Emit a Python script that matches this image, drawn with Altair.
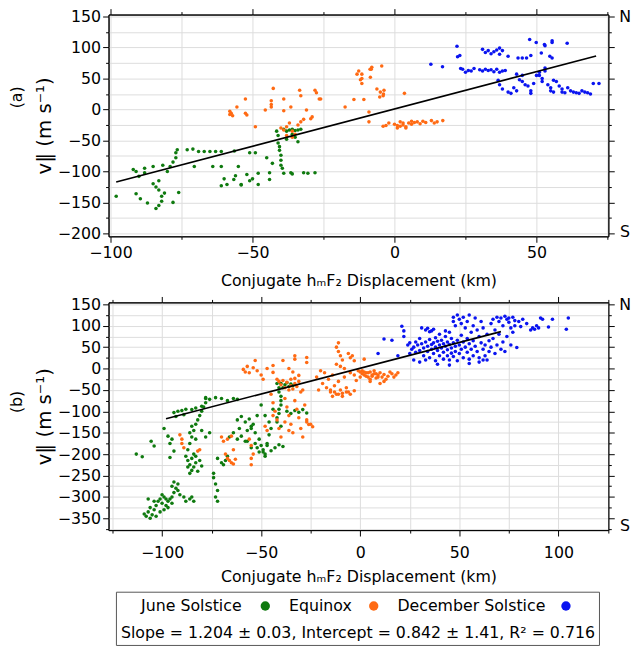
import altair as alt
import pandas as pd

FONT = "DejaVu Sans"
SEASONS = ["June Solstice", "Equinox", "December Solstice"]
COLORS = ["#0f7a0f", "#ff6a13", "#0a14f0"]

# ---- panel (a) data: (displacement km, v|| m/s) ----
a_june = [(-98,-140),(-92,-97),(-91,-100),(-90,-108),(-88,-95),(-88,-102),(-91,-136),(-89.5,-144),(-87,-151),
          (-85,-92),(-81.6,-90),(-85,-120),(-84,-125),(-83,-130),(-82,-140),(-82,-148),(-83,-155),(-84,-160),
          (-81,-135),(-83,-115),(-80,-100),(-79,-92),(-78,-85),(-77,-78),(-77,-70),(-76.5,-65),(-76,-134),
          (-78,-150),(-73,-65),(-71,-64),(-69,-68),(-67,-68),(-65,-68),(-63,-68),(-61,-68),(-56.4,-67),
          (-70.5,-92),(-64,-92),(-61,-92),(-61,-123),(-60,-112),(-59,-121),(-56.6,-113),(-55,-92),(-54,-121),
          (-52,-105),(-51,-115),(-50,-112),(-48,-121),(-48,-103),(-49,-70),(-51,-70),(-45,-78),(-44,-102),
          (-44,-113),(-43,-87),(-56,-107),(-54,-122),
          (-41.5,-35),(-41,-42),(-41,-54),(-40.5,-60),(-40.5,-66),(-40,-74),(-40,-82),(-40,-90),(-39.5,-95),
          (-39,-32),(-38,-35),(-37,-33),(-36,-32),(-35,-34),(-34,-33),(-33,-32),(-36,-40),(-35,-45),(-34,-52),
          (-38,-48),(-39,-103),(-36.5,-102),(-36,-104),(-32,-102),(-30.5,-103),(-28,-102)]
a_equinox = [(-58,-3),(-57.5,-6),(-57,-10),(-58,-8),(-55.5,4),(-52.5,17),(-52.5,-6),(-52,-9),(-49,-28),
             (-45.5,-1),(-43.4,14),(-43.4,8),(-43.4,4),(-42.7,34),(-39,17),(-39,-2),(-36.5,4),(-33.4,31),
             (-33,22),(-31,-1),(-29,-12),(-29.5,-15),(-28,31),(-27.5,27),(-26.5,17),(-26,17),
             (-40,-30),(-39,-33),(-38,-28),(-37,-22),(-36,-35),(-35,-40),(-34,-25),(-33,-20),(-32,-16),
             (-36,-45),(-38,-42),(-17.4,4),(-14.3,16),(-12.6,62),(-11.5,57),(-11.5,50),(-11.5,42),(-10.8,16),
             (-9,-4),(-8.6,65),(-8.2,65),(-9,-20),(-8,68),(-8.5,52),(-6.2,33),(-5.2,20),(-4.5,70),(-3.9,25),
             (-3.7,31),(3.5,26),(-13.2,57),(-12,48),(-4,22),(-5,28),
             (-4,-27),(-2,-22),(0,-24),(1,-26),(2,-20),(3,-25),(4,-28),(5,-22),(6,-24),(7,-21),(8,-20),(9,-23),
             (11,-21),(13,-18),(14,-22),(15,-20),(17,-18),(-3,-26),(1,-30),(4,-30),(6,-19),(10,-19),(2,-27),(3,-22)]
a_december = [(12.8,73),(16.9,69),(22,102),(22.2,85),(23,87),(23.3,66),
              (24,65),(26,63),(27,62),(28,66),(30,64),(31,62),(32,65),(33,63),(34,64),(35,61),(36,65),(37,60),
              (38,62),(39,63),(25,60),(31,97),(32,92),(33,95),(34,90),(35,93),(36,96),(37,89),(38,95),(37,99),
              (40,86),(43.5,83),(45,83),(46.5,83),(48,87),(51.7,91),(52.8,105),(47.6,113),(49.9,108),(55.5,111),
              (60.8,107),(54.7,86),(55.5,83),(53,103),(55.5,108),
              (36.5,47),(37,40),(38,33),(40,28),(41,26),(42,35),(43,57),(44,48),(45,45),(46,40),(47,38),(48,30),
              (48,26),(49,42),(50,55),(45,55),(43,30),
              (51,60),(51,55),(52,50),(52,45),(53,62),(54,40),(55,35),(55,30),(56,47),(57,45),(58,38),(59,33),
              (56,28),(53,67),(59,28),(60,27),(62,30),(63,28),(64,27),(65,26),(66,30),(67,28),(68,27),(69,25),
              (70,42),(72,42),(61,35)]

# ---- panel (b) data ----
b_june = [(-113,-200),(-110,-206),(-105.5,-170),(-104,-181),
          (-109,-340),(-108,-345),(-107,-335),(-106,-350),(-105,-342),(-104,-330),(-103,-320),(-102,-310),
          (-101,-305),(-100,-315),(-99,-300),(-98,-320),(-97,-310),(-96,-305),(-95,-300),(-94,-290),(-93,-280),
          (-92,-270),(-95,-315),(-97,-325),(-104,-310),(-107,-305),(-103,-345),(-101,-335),(-99,-330),
          (-106,-325),(-100,-295),(-98,-305),(-92,-285),(-91,-295),(-89,-300),(-88,-310),(-86,-305),(-84,-310),
          (-85,-300),(-94,-265),(-95,-275),
          (-99,-140),(-97,-158),(-95,-165),(-96,-175),(-94,-193),(-96,-208),
          (-88,-205),(-87,-215),(-86,-225),(-85,-210),(-84,-230),(-83,-220),(-82,-240),(-81,-215),(-86,-245),
          (-84,-200),(-80,-228),(-87,-230),(-85,-238),(-83,-205),
          (-87,-190),(-86,-175),(-85,-160),(-84,-145),(-83,-130),(-82,-120),(-81,-110),(-80,-100),(-79,-90),
          (-78,-80),(-78,-70),(-86,-150),(-83,-165),(-85,-135),
          (-94,-103),(-92,-100),(-90,-98),(-88,-95),(-85,-96),(-83,-92),(-80,-88),(-93,-112),(-89,-108),
          (-80,-145),(-78,-160),(-76,-150),
          (-74,-255),(-73,-270),(-72,-285),(-73,-300),(-74,-245),(-72,-310),
          (-72,-210),(-70,-220),(-68,-215),(-67,-205),(-69,-225),
          (-66,-160),(-64,-150),(-62,-165),(-60,-158),(-58,-170),(-57,-145),(-61,-140),
          (-62,-120),(-60,-112),(-58,-125),(-56,-118),(-54,-130),(-52,-110),(-55,-135),
          (-55,-140),(-53,-150),(-51,-165),(-50,-180),(-49,-195),(-48,-205),(-47,-175),(-46,-155),(-52,-185),
          (-78,-68),(-76,-72),(-73,-68),(-70,-70),(-67,-75),(-64,-70),(-62,-72),
          (-57,-170),(-55,-185),(-53,-175),(-51,-195),(-49,-190),(-47,-180),(-45,-192),(-43,-185),(-41,-178),
          (-39,-182),(-48,-200),
          (-42,-35),(-41,-45),(-41,-55),(-40,-65),(-40,-75),(-40,-85),(-41,-95),(-41,-105),(-42,-115),
          (-42,-125),(-40,-135),
          (-40,-35),(-38,-38),(-37,-33),(-36,-42),(-35,-36),(-34,-40),(-39,-45),
          (-37,-100),(-35,-105),(-33,-98),(-31,-102),(-29,-96),(-27,-104),
          (-50,-85),(-48,-110),(-46,-125),(-45,-140),(-44,-95)]
b_equinox = [(-91,-155),(-90,-165),(-90,-175),(-89,-185),(-82,-193),(-81,-190),
             (-70,-160),(-67,-165),(-65,-158),(-67,-210),(-65,-220),(-69,-170),(-68,-200),(-66,-215),(-64,-190),
             (-63,-212),(-64,-223),(-55,-180),(-54,-200),(-56,-165),(-48,-135),(-47,-145),
             (-59,-2),(-58,-8),(-56,-10),(-54,2),(-52,-5),(-50,-15),(-49,-25),(-57,5),(-53,19),(-39,19),
             (-33,30),(-33,22),(-27,26),(-27,14),(-44,7),(-44,-9),(-47,0),(-36,0),(-34,-8),(-31,-16),(-33,-23),
             (-42,-25),(-41,-30),(-40,-38),(-39,-28),(-38,-45),(-37,-32),(-36,-50),(-35,-40),(-34,-48),
             (-33,-35),(-32,-42),(-30,-55),(-29,-50),(-31,-30),(-35,-25),
             (-45,-60),(-44,-80),(-43,-100),(-42,-120),(-41,-140),(-40,-160),(-38,-70),(-37,-90),(-36,-110),
             (-35,-130),(-34,-150),(-33,-75),(-32,-95),(-31,-115),(-30,-140),(-29,-160),(-28,-85),(-27,-120),
             (-44,-110),(-38,-125),(-36,-145),(-27,-125),(-25,-130),(-24,-136),(-26,-131),(-55,-210),(-55,-225),
             (-22,-20),(-20,-5),(-19,-35),(-18,-10),(-17,-45),(-16,-25),(-15,-55),(-14,-15),(-13,-40),(-12,-60),
             (-11,-30),(-10,-50),(-9,-65),(-8,-20),(-7,-45),(-6,-55),(-21,-50),(-14,-65),(-10,5),(-8,0),
             (-12,50),(-11,40),(-10,30),(-9,20),(-11,60),(-12,10),(-6,35),(-5,25),(-4,30),(-3,18),
             (-5,-10),(-3,-15),(-1,-5),(0,-20),(1,-12),(2,-8),(3,-18),(4,-10),(5,-25),(6,-15),(7,-5),(8,-12),
             (9,-20),(-2,-28),(0,-8),(1,-5),(2,-15),(3,-10),(4,-20),(5,-8),(6,-18),(7,-12),(8,-22),(9,-15),
             (10,-10),(11,-20),(12,-14),(13,-25),(14,-18),(15,-8),(16,-12),(17,-20),(18,-15),(19,-10),(12,-30),
             (10,-35),(5,-30),(2,22),(-15,-50),(-13,-55),(-11,-60),(-9,-58),(-7,-55),(-5,-60),(-3,-52)]
b_december = [(9,35),(12,69),(16,66),(19,30),(21,99),(22,88),(22,75),(24,55),(25,60),(26,45),(27,50),(27,20),
              (28,62),(28,38),(29,55),(30,42),(30,70),(31,95),(31,58),(32,48),(32,30),(33,90),(33,62),(34,52),
              (34,40),(35,86),(35,68),(35,25),(36,56),(36,45),(37,92),(37,60),(37,35),(38,50),(38,72),(38,18),
              (39,64),(39,42),(40,55),(40,30),(40,80),(41,48),(41,66),(42,38),(42,58),(42,22),(43,52),(43,75),
              (44,44),(44,62),(44,30),(45,56),(45,85),(45,20),(46,48),(46,70),(46,36),(47,120),(47,110),(47,60),
              (47,28),(48,52),(48,100),(48,40),(49,125),(49,66),(49,18),(50,115),(50,55),(50,35),(51,105),
              (51,78),(51,45),(52,120),(52,62),(52,25),(53,95),(53,50),(54,110),(54,70),(54,38),(55,125),(55,58),
              (55,22),(56,85),(56,45),(57,100),(57,65),(57,30),(58,118),(58,52),(59,90),(59,40),(60,75),(60,25),
              (61,60),(61,110),(62,45),(62,95),(63,55),(63,30),(64,80),(64,20),(65,65),(65,40),(66,50),(66,105),
              (67,115),(67,70),(68,35),(68,90),(69,120),(69,55),(70,110),(70,80),(71,45),(71,118),(72,100),
              (72,62),(73,122),(73,40),(74,115),(74,75),(75,108),(75,118),(76,95),(76,55),(77,120),(77,85),
              (78,100),(78,112),(79,49),(80,110),(81,98),(82,115),(84,105),(86,90),(87,95),(88,92),(89,100),
              (90,95),(91,118),(92,115),(95,97),(97,115),(104,92),(105,118),(36,88),(34,94),(43,88),(30,15),
              (25,35),(33,20),(39,10),(45,8),(55,12),(60,15),(62,20)]

# ---- regression line endpoints (slope 1.204, intercept 0.842) ----
fit_x = [-98, 71]
fit_y = [-117.2, 86.3]

X_TITLE = "Conjugate h\u2098F\u2082 Displacement (km)"
Y_TITLE = "v\u2016 (m s\u207b\u00b9)"
LEGEND_LINE2 = "Slope = 1.204 \u00b1 0.03, Intercept = 0.842 \u00b1 1.41, R\u00b2 = 0.716"

TICK = {"condition": {"test": "datum.value % 50 === 0", "value": 6}, "value": 3}
LABEL_EXPR = "datum.value % 50 === 0 ? datum.label : ''"


def frame(groups):
    rows = []
    for name, pts in zip(SEASONS, groups):
        rows += [{"x": x, "y": y, "season": name} for x, y in pts]
    return pd.DataFrame(rows)


def panel(groups, xdom, ydom, xvals, yvals, w, h, tag, tag_y, xlabpad, xtitlepad, legend=False):
    xs = alt.Scale(domain=xdom, nice=False, zero=False)
    ys = alt.Scale(domain=ydom, nice=False, zero=False)
    pts = alt.Chart(frame(groups)).mark_circle(size=13, opacity=1).encode(
        x=alt.X("x:Q", scale=xs, axis=alt.Axis(values=xvals, labelExpr=LABEL_EXPR, tickSize=TICK,
                                               grid=True, labelPadding=xlabpad, title=X_TITLE,
                                               titlePadding=xtitlepad, labelFlush=False)),
        y=alt.Y("y:Q", scale=ys, axis=alt.Axis(values=yvals, labelExpr=LABEL_EXPR, tickSize=TICK,
                                               grid=True, labelPadding=2, title=Y_TITLE,
                                               titlePadding=3, titleFontSize=20, labelFlush=False)),
        color=alt.Color("season:N", scale=alt.Scale(domain=SEASONS, range=COLORS), legend=None),
    )
    fit = alt.Chart(pd.DataFrame({"x": fit_x, "y": fit_y})).mark_line(color="black", strokeWidth=1.6).encode(
        x=alt.X("x:Q", scale=xs, axis=alt.Axis(orient="top", values=xvals, labels=False, title=None,
                                               grid=False, tickSize=TICK)),
        y=alt.Y("y:Q", scale=ys, axis=alt.Axis(orient="right", values=yvals, labels=False, title=None,
                                               grid=False, tickSize=TICK)),
    )
    def txt(s, x, y, **kw):
        return alt.Chart(pd.DataFrame({"t": [s]})).mark_text(font=FONT, **kw).encode(
            text="t:N", x=alt.value(x), y=alt.value(y))
    layers = [pts, fit,
              txt("N", w + 17, 3, fontSize=16, align="center", baseline="middle"),
              txt("S", w + 17, h - 4, fontSize=16, align="center", baseline="middle"),
              txt(tag, -93, tag_y, fontSize=16, align="center", baseline="middle", angle=270)]
    if legend:
        box = alt.Chart(pd.DataFrame({"t": [0]})).mark_rect(fill="white", stroke="#555555", strokeWidth=1).encode(
            x=alt.value(8), x2=alt.value(498), y=alt.value(294), y2=alt.value(348))
        layers.append(box)
        leg_x = [33, 183, 293]
        dot_x = [159, 269, 464]
        for name, lx in zip(SEASONS, leg_x):
            layers.append(txt(name, lx, 308, fontSize=16, align="left", baseline="middle"))
        dots = alt.Chart(pd.DataFrame({"season": SEASONS, "px": dot_x})).mark_circle(size=90, opacity=1).encode(
            x=alt.X("px:Q", scale=None), y=alt.value(308),
            color=alt.Color("season:N", scale=alt.Scale(domain=SEASONS, range=COLORS), legend=None))
        layers.append(dots)
        layers.append(txt(LEGEND_LINE2, 253, 335, fontSize=16, align="center", baseline="middle"))
    return alt.layer(*layers).resolve_axis(x="independent", y="independent").properties(width=w, height=h)


top = panel([a_june, a_equinox, a_december], [-100.7, 75.3], [-204.8, 153.2],
            list(range(-100, 76, 25)), list(range(-200, 151, 25)), 507, 225, "(a)", 84, 2, 13)
bottom = panel([b_june, b_equinox, b_december], [-127, 125.2], [-377.6, 154.6],
               list(range(-125, 126, 25)), list(range(-375, 151, 25)), 507, 231, "(b)", 101, 9, 8,
               legend=True)

chart = alt.vconcat(top, bottom, spacing=6).properties(
    padding={"left": 0, "top": -5, "right": 0, "bottom": 0}, background="white"
).configure_view(stroke="black", strokeWidth=1).configure_axis(
    labelFont=FONT, titleFont=FONT, labelFontSize=16, titleFontSize=16, titleFontWeight="normal",
    labelColor="black", titleColor="black", domainColor="black", tickColor="black",
    gridColor="#dcdcdc", gridWidth=1,
)

chart.save("out.html", embed_options={"renderer": "svg", "actions": False})
